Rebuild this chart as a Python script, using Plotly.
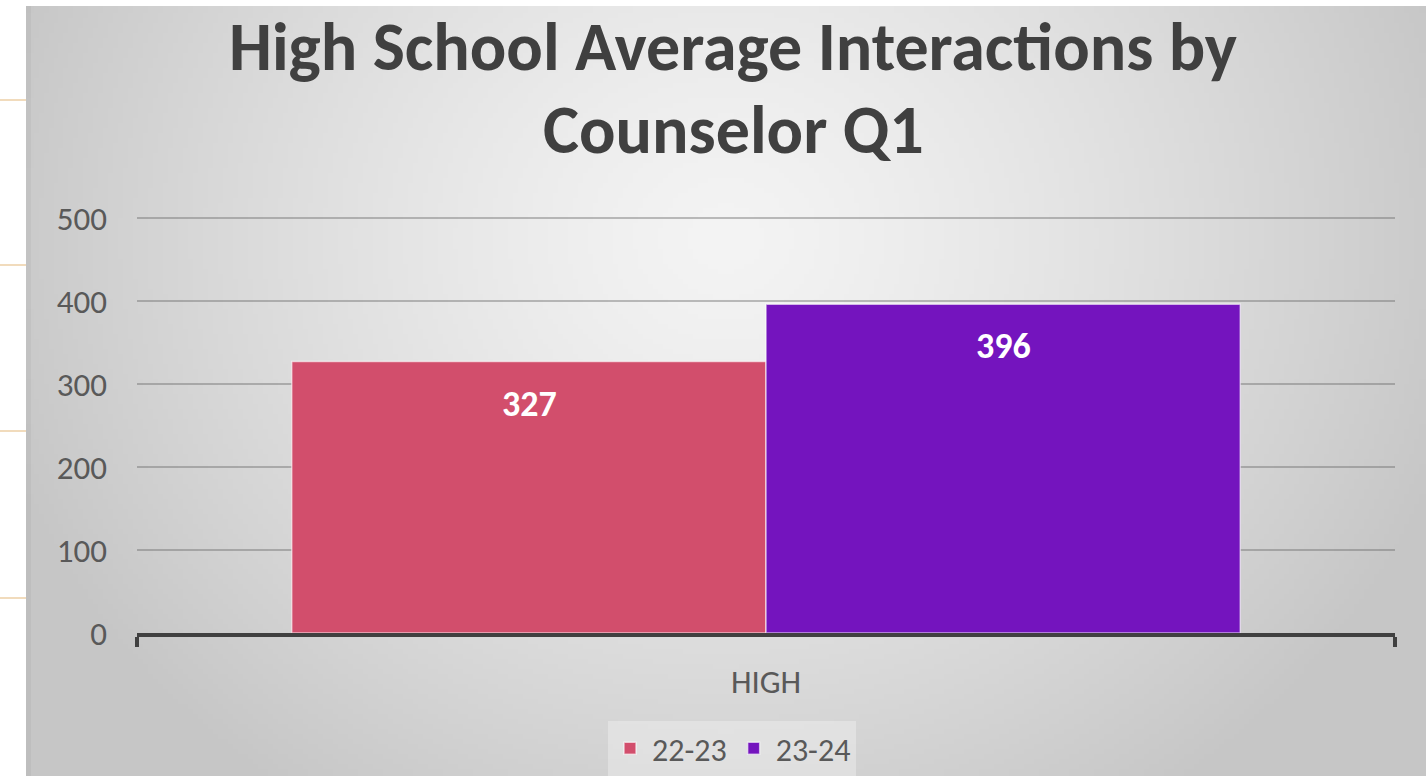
import base64
import struct
import zlib
import plotly.graph_objects as go

# chart data
categories = ["HIGH"]
series_names = ["22-23", "23-24"]
series_values = [[327], [396]]
series_colors = ["#D24E6C", "#7414BE"]
y_ticks = [0, 100, 200, 300, 400, 500]

W, H = 1426, 776
FONT = "Carlito, Lato, sans-serif"
Y_TOP = 510  # a bit of headroom so the 500 gridline is drawn


def gradient_png(w, h):
    # soft radial grey fill used as the panel background
    rows = []
    for j in range(h):
        row = bytearray()
        for i in range(w):
            dx = (i / (w - 1) - 0.5) / 0.55
            dy = (j / (h - 1) - 0.3) / 0.9
            d = min(1.0, (dx * dx + dy * dy) ** 0.5)
            row.append(int(244 - 46 * d ** 1.3))
        rows.append(row)
    raw = b"".join(b"\x00" + bytes(r) for r in rows)

    def chunk(tag, data):
        return (struct.pack(">I", len(data)) + tag + data
                + struct.pack(">I", zlib.crc32(tag + data) & 0xffffffff))

    ihdr = struct.pack(">IIBBBBB", w, h, 8, 0, 0, 0, 0)
    png = (b"\x89PNG\r\n\x1a\n" + chunk(b"IHDR", ihdr)
           + chunk(b"IDAT", zlib.compress(raw)) + chunk(b"IEND", b""))
    return "data:image/png;base64," + base64.b64encode(png).decode()


fig = go.Figure()
for name, vals, color in zip(series_names, series_values, series_colors):
    fig.add_trace(go.Bar(
        x=categories, y=vals, name=name,
        marker=dict(color=color, line=dict(color="rgba(255,255,255,0.6)", width=1.5)),
        hoverinfo="x+y+name",
    ))

# data labels, placed under the top of each bar
bar_px = (1241 - 293) / 2
for k, vals in enumerate(series_values):
    for cat, v in zip(categories, vals):
        fig.add_annotation(
            x=cat, y=v, xref="x", yref="y", text=f"<b>{v}</b>", showarrow=False,
            xshift=(k - 0.5) * bar_px, yshift=-42,
            font=dict(family=FONT, size=36, color="white"),
        )

# title as two lines
for text, ypx in (("High School Average Interactions by", 46), ("Counselor Q1", 130)):
    fig.add_annotation(
        x=733 / W, y=1 - ypx / H, xref="paper", yref="paper", showarrow=False,
        xanchor="center", yanchor="middle",
        text=f"<b>{text}</b>",
        font=dict(family=FONT, size=68, color="#404040"),
    )

shapes = [dict(type="line", xref="paper", yref="paper", x0=0, x1=26 / W,
               y0=1 - yp / H, y1=1 - yp / H, line=dict(color="#EDCFA6", width=1.5))
          for yp in (100, 265, 431, 598)]
shapes.append(dict(type="rect", xref="paper", yref="paper", x0=26 / W, x1=31 / W,
                   y0=0, y1=1 - 6 / H, line=dict(width=0),
                   fillcolor="rgba(0,0,0,0.04)", layer="below"))

# 0 sits at 633 px, 500 at 218 px from the top
px_per_unit = (633 - 218) / 500
top_px = 633 - Y_TOP * px_per_unit

fig.update_layout(
    width=W, height=H, autosize=False,
    margin=dict(l=0, r=0, t=0, b=0),
    paper_bgcolor="white",
    plot_bgcolor="rgba(0,0,0,0)",
    font=dict(family=FONT, color="#595959"),
    barmode="group", bargap=0.246, bargroupgap=0,
    images=[dict(source=gradient_png(280, 154), xref="paper", yref="paper",
                 x=26 / W, y=1 - 6 / H, sizex=1 - 26 / W, sizey=1 - 6 / H,
                 xanchor="left", yanchor="top", sizing="stretch", layer="below")],
    shapes=shapes,
    xaxis=dict(
        domain=[137 / W, 1395 / W],
        showline=True, linecolor="#404040", linewidth=4,
        ticks="outside", tickson="boundaries", ticklen=10, tickwidth=4, tickcolor="#404040",
        tickfont=dict(size=33, color="#595959"),
        ticklabelstandoff=16,
        showgrid=False, automargin=False,
    ),
    yaxis=dict(
        domain=[(H - 633) / H, (H - top_px) / H],
        range=[0, Y_TOP], tickvals=y_ticks,
        showgrid=True, gridcolor="rgba(105,105,105,0.42)", gridwidth=2,
        zeroline=False, showline=False, ticks="",
        tickfont=dict(size=33, color="#595959"),
        ticklabelstandoff=29,
        automargin=False,
    ),
    legend=dict(
        orientation="h", x=732 / W, xanchor="center", y=0, yanchor="bottom",
        bgcolor="rgba(255,255,255,0.3)", font=dict(size=32, color="#595959"),
        itemwidth=34, tracegroupgap=0,
    ),
)

fig.write_html(
    "out.html",
    config={"displayModeBar": False, "responsive": False},
    post_script="document.body.style.margin='0';document.body.style.overflow='hidden';",
)
